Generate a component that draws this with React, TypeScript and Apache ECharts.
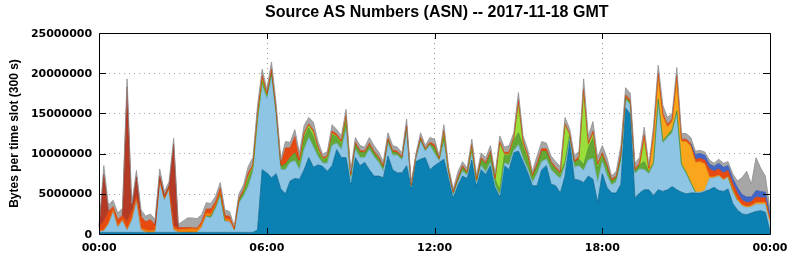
import React, { useEffect, useRef } from "react";
import * as echarts from "echarts";

const TITLE = "Source AS Numbers (ASN) -- 2017-11-18 GMT";
const Y_NAME = "Bytes per time slot (300 s)";
const STEP_MIN = 10; // samples read every 10 minutes, 00:00 .. 24:00
const LABEL_EVERY = 36; // one label every 6 hours
const Y_TICKS = [0, 5000000, 10000000, 15000000, 20000000, 25000000];
const UNIT = 1000000; // values below are in millions of bytes

// teal (largest AS)
const asTeal = [
  0.2,0.2,0.2,0.2,0.2,0.2,0.2,0.2,0.2,0.2,
  0.2,0.2,0.2,0.2,0.2,0.2,0.2,0.2,0.2,0.2,
  0.2,0.2,0.2,0.2,0.2,0.2,0.2,0.2,0.2,0.2,
  0.2,0.2,0.2,0.2,0.5,8.0,7.6,7.0,7.5,5.6,
  5.0,6.6,6.9,6.8,8.0,9.5,8.3,8.6,8.4,7.8,
  8.5,10.5,9.5,9.5,6.2,9.5,8.5,8.9,8.0,7.2,
  7.2,7.0,9.7,8.0,7.6,7.6,8.5,5.7,9.0,9.3,
  9.5,8.0,8.5,8.9,9.3,6.9,4.5,6.0,7.2,6.9,
  9.2,6.0,8.0,7.4,8.5,5.8,4.6,8.5,8.0,10.1,
  10.3,9.0,7.6,6.0,6.0,8.0,8.5,6.2,6.0,5.1,
  7.2,11.5,6.8,6.7,6.4,7.2,6.8,3.9,7.5,5.8,
  5.1,5.1,6.2,15.7,14.9,4.5,5.1,5.5,5.5,4.8,
  5.5,5.3,5.5,5.9,5.5,5.2,5.0,5.1,5.1,5.1,
  5.3,5.5,5.8,5.4,5.3,5.6,3.8,3.0,2.5,2.4,
  2.6,2.8,2.9,2.7,0.3,
];
const asLightBlue = [
  0.1,0.2,1.0,2.6,0.6,1.5,0.3,1.5,4.0,0.3,
  0,0,0,6.2,4.0,5.3,0.3,0,0,0,
  0,0,0.6,2.0,1.8,3.0,4.6,1.4,1.3,0.3,
  3.6,4.5,5.7,7.5,13.5,10.5,9.2,12.5,7.0,2.4,
  3.0,2.3,2.2,1.2,2.5,2.5,2.5,1.0,0.4,1.0,
  2.5,0.8,1.0,3.5,0.2,1.0,1.0,0.6,2.5,2.4,
  1.7,0.8,1.6,1.8,2.2,1.6,4.3,0.2,0.5,2.2,
  0.8,3.0,1.5,0.2,2.0,0.5,0.3,0.4,0.6,0.4,
  0.8,0.3,0.5,0.3,0.4,0.2,0.2,0.3,0.6,0.3,
  0.8,0.4,0.5,0.4,1.5,1.0,0.8,1.8,1.4,1.8,
  1.3,0.5,1.5,1.8,1.5,2.0,2.6,2.5,1.5,1.5,
  1.0,1.4,2.8,1.0,1.2,3.0,3.0,2.5,2.0,3.8,
  11.0,6.0,6.5,6.7,9.5,3.3,2.5,1.2,0.1,0.1,
  0.1,1.4,1.2,1.8,1.4,1.5,1.5,1.2,1.0,0.9,
  0.8,0.9,0.8,1.0,1.2,
];
const asGreen = [
  0,0,0,0,0,0,0,0,0,0,
  0,0,0,0,0,0,0,0,0,0,
  0,0,0,0,0.2,0.2,0.2,0,0,0,
  0.4,0.5,1.0,0.6,0.5,0.5,0.4,0.6,0.7,0.4,
  0.7,0.6,1.0,0.8,1.5,1.2,1.3,0.7,0.5,0.7,
  1.3,0.8,0.8,1.2,0.9,0.7,0.7,0.6,0.5,0.5,
  0.5,0.5,0.4,0.4,0.3,0.3,0.5,0.1,0.1,0.3,
  0.2,0.2,0.8,0.2,1.0,0.4,0.3,0.4,0.5,0.3,
  0.7,0.3,0.8,1.0,1.2,0.8,0.6,1.0,1.2,1.2,
  1.5,1.5,1.3,0.8,1.0,1.3,1.0,0.8,0.7,0.6,
  0.5,0.3,0.6,0.8,0.7,1.5,2.5,1.8,0.8,1.1,
  0.5,0.5,0.6,0.3,0.3,0.3,0.5,1.0,0.3,0.3,
  0.3,0.3,0.3,0.4,0.3,0.2,0.2,0.1,0,0,
  0,0,0,0,0,0,0.1,0,0,0,
  0,0,0,0,0,
];
const asLime = [
  0,0,0,0,0,0,0,0,0,0,
  0,0,0,0,0,0,0,0,0,0,
  0,0,0,0,0,0,0,0,0,0,
  0,0,0.2,0,0,0.2,0,0,0,0,
  0,0,0,0,0.3,0.3,0.5,0.2,0,0,
  0.2,0,0,0.3,0,0,0,0,0,0,
  0,0,0,0,0,0,0,0,0,0,
  0,0,0,0,0.3,0,0,0,0,0,
  0.2,0,0,0,0,0,5.8,0.1,0.1,0.2,
  3.5,0.3,0.1,0,0,0,0,0,0,0,
  4.5,0,0,0,9.0,0.3,0.5,0.2,0,0,
  0,0,0,0,0,0,0,2.5,0,0,
  0,0,0,0,0,0,0,0,0,0,
  0,0,0,0,0,0,0,0,0,0,
  0,0,0,0,0,
];
const asAmber = [
  0,0,0,0,0,0,0,0,0,0,
  0,0,0,0,0,0,0,0,0,0,
  0,0,0,0,0,0,0,0,0,0,
  0,0,0,0,0,0,0,0,0,0,
  0,0,0,0,0,0,0,0,0,0,
  0,0,0,0,0,0,0,0,0,0,
  0,0,0,0,0,0,0,0,0,0,
  0,0,0,0,0,0,0,0,0,0,
  0,0,0,0,0,0,0,0,0,0,
  0,0,0,0,0,0,0,0,0,0,
  0,0,0,0,0,0,0,0,0,0,
  0,0,0,0,0,0,0,0.5,0.2,3.3,
  2.8,3.0,1.0,1.0,4.0,2.8,3.8,4.5,3.7,3.8,
  3.3,0.2,0.1,0.1,0.1,0,0.1,0.1,0.1,0.1,
  0.1,0.2,0.2,0.2,0.1,
];
const asOrange = [
  0.1,0.1,0.2,0.2,0.2,0.1,0.1,0.2,0.1,0.2,
  0.3,0.2,0.3,0.2,0.2,0.2,0.2,0.3,0.4,0.4,
  0.5,0.4,0.4,0.4,0.3,0.2,0.2,0.3,0.3,0.1,
  0,0,0,0,0,0,0,0,0,0,
  0,0,0,0,0,0,0,0,0,0,
  0,0,0,0,0,0,0,0,0,0,
  0,0,0,0,0,0,0,0,0,0,
  0,0,0,0,0,0,0,0,0,0,
  0,0,0,0,0,0,0,0,0,0,
  0,0,0,0,0,0,0,0,0,0,
  0,0,0,0,0,0,0,0,0,0,
  0,0,0,0,0,0,0,0,0,0,
  0,0,0,0,0,0,0,0,0,0,
  0,0,0,0,0,0,0,0,0,0,
  0,0,0,0,0,
];
const asRedOrange = [
  0.5,1.1,1.4,0.4,0.8,0.5,0.9,1.0,0.4,1.5,
  1.0,1.4,0.6,0.3,0.3,0.2,0.3,0.3,0.2,0.2,
  0.1,0.1,0.3,0.5,0.6,0.4,0.5,0.4,0.4,0.1,
  0.2,0.3,0.5,0.3,0.5,0.5,0.3,0.4,0.3,0.3,
  2.0,1.2,2.0,0.4,0.3,0.2,0.3,0.3,0.2,0.2,
  0.3,0.3,0.3,0.3,0.1,0.2,0.2,0.2,0.3,0.2,
  0.2,0.2,0.2,0.2,0.2,0.1,0.2,0.1,0.1,0.2,
  0.1,0.2,0.3,0.1,0.3,0.1,0.1,0.2,0.2,0.1,
  0.2,0.1,0.2,0.2,0.2,0.1,0.3,0.2,0.3,0.2,
  0.5,0.3,0.3,0.1,0.3,0.3,0.3,0.2,0.2,0.2,
  0.2,0.2,0.2,0.3,0.4,0.3,0.4,0.3,0.3,0.2,
  0.2,0.2,0.4,0.3,0.3,0.3,0.2,0.3,0.2,0.4,
  0.4,0.4,0.3,0.3,0.4,0.3,0.3,0.3,0.4,0.4,
  0.5,1.0,0.7,0.8,0.8,0.8,0.8,0.8,0.6,0.5,
  0.5,0.7,0.6,0.6,0.4,
];
const asDarkRed = [
  0,5.8,0,0,0,0,16.8,0.2,2.4,0,
  0,0,0,0.3,0,0,10.2,0,0,0,
  0,0,0,0,0,0,0,0,0,0,
  0,0,0,0,0,0,0,0,0,0,
  0,0,0,0,0,0,0,0,0,0,
  0,0,0,0,0,0,0,0,0,0,
  0,0,0,0,0,0,0,0,0,0,
  0,0,0,0,0,0,0,0,0,0,
  0,0,0,0,0,0,0,0,0,0,
  0,0,0,0,0,0,0,0,0,0,
  0,0,0,0,0,0,0,0,0,0,
  0,0,0,0,0,0,0,0,0,0,
  0,0,0,0,0,0,0,0,0,0,
  0,0,0,0,0,0,0,0,0,0,
  0,0,0,0,0,
];
const asBlue = [
  0,0,0,0,0,0,0,0,0,0,
  0,0,0,0,0,0,0,0,0,0,
  0,0,0,0,0,0,0,0,0,0,
  0,0,0,0,0,0,0,0,0,0,
  0,0,0,0,0,0,0,0,0,0,
  0,0,0,0,0,0,0,0,0,0,
  0,0,0,0,0,0,0,0,0,0,
  0,0,0,0,0,0,0,0,0,0,
  0,0,0,0,0,0,0,0,0,0,
  0,0,0,0,0,0,0,0,0,0,
  0,0,0,0,0,0,0,0,0,0,
  0,0,0,0,0,0,0,0,0,0,
  0,0,0,0,0,0,0,0,0.6,0.6,
  0.6,0.6,0.6,0.7,0.7,0.6,0.6,0.7,0.7,0.7,
  0.6,0.8,0.8,0.7,0.4,
];
const asGray = [
  0.3,1.1,0.8,0.8,0.8,0.9,1.0,0.7,0.8,0.8,
  0.7,0.7,0.7,0.9,0.6,0.6,0.7,0.4,0.8,1.2,
  1.2,1.2,0.9,0.8,0.7,0.7,0.7,0.7,0.6,0.3,
  0.6,0.6,0.8,0.9,1.0,0.8,0.5,0.9,0.7,0.6,
  0.8,0.7,0.9,0.9,0.9,0.8,1.0,0.7,0.4,0.6,
  0.8,0.6,0.6,0.7,0.4,0.6,0.6,0.5,0.7,0.7,
  0.6,0.5,0.7,0.6,0.5,0.5,0.8,0.3,0.3,0.6,
  0.4,0.6,0.7,0.3,0.7,0.5,0.4,0.7,0.5,0.5,
  0.7,0.6,0.6,0.6,0.7,0.6,0.7,0.7,0.8,0.6,
  1.0,0.7,0.7,0.5,0.9,0.9,0.7,0.7,0.7,0.7,
  0.8,0.6,0.6,0.7,1.3,0.9,1.2,0.8,0.9,0.9,
  0.4,0.6,1.0,0.9,0.8,0.7,0.7,1.0,0.3,0.8,
  1.0,1.0,0.9,0.7,1.0,0.7,0.7,0.8,0.4,0.4,
  0.4,0.5,0.4,0.5,0.5,0.5,0.6,0.8,2.1,3.2,
  1.6,4.1,2.9,2.0,0.7,
];

const LAYERS = [
  { name: "AS teal", values: asTeal, fill: "#0a80b3", line: "#06648e" },
  { name: "AS light blue", values: asLightBlue, fill: "#8ec5e4", line: "#72b0d6" },
  { name: "AS green", values: asGreen, fill: "#62a836", line: "#4a9026" },
  { name: "AS lime", values: asLime, fill: "#9ade3c", line: "#84c62a" },
  { name: "AS amber", values: asAmber, fill: "#f9a61c", line: "#e49010" },
  { name: "AS orange", values: asOrange, fill: "#f58200", line: "#e07000" },
  { name: "AS red-orange", values: asRedOrange, fill: "#e64a10", line: "#d03c08" },
  { name: "AS dark red", values: asDarkRed, fill: "#b43a26", line: "#9a2e1c" },
  { name: "AS blue", values: asBlue, fill: "#4266c6", line: "#3454b4" },
  { name: "other", values: asGray, fill: "#a6a6a6", line: "#8e8e8e" },
];

const pad2 = (n: number) => (n < 10 ? "0" + n : String(n));
const fmtTime = (m: number) => pad2(Math.floor(m / 60) % 24) + ":" + pad2(m % 60);
const TIME_SLOTS = asTeal.map((_, i) => fmtTime(i * STEP_MIN));

// Leave out zero slots inside long zero runs, so an empty layer draws no edge line on top of the stack
const toSeriesData = (vals: number[]) =>
  vals.map((v, i) => {
    const prev = i > 0 ? vals[i - 1] : 0;
    const next = i < vals.length - 1 ? vals[i + 1] : 0;
    return v === 0 && prev === 0 && next === 0 ? null : v * UNIT;
  });

export default function App() {
  const ref = useRef<HTMLDivElement>(null);
  useEffect(() => {
    if (!ref.current) return;
    const chart = echarts.init(ref.current, null, { renderer: "svg" });
    const labelFont = { fontFamily: "DejaVu Sans", fontWeight: "bold" as const, fontSize: 11, color: "#000" };
    const series = LAYERS.map((l) => ({
      name: l.name,
      type: "line",
      stack: "total",
      showSymbol: false,
      symbol: "none",
      smooth: false,
      connectNulls: false,
      data: toSeriesData(l.values),
      lineStyle: { color: l.line, width: 0.8 },
      areaStyle: { color: l.fill, opacity: 1 },
      itemStyle: { color: l.fill },
    }));
    chart.setOption({
      animation: false,
      title: {
        text: TITLE,
        left: 265,
        top: 3,
        padding: 0,
        textStyle: { fontFamily: "Liberation Sans", fontWeight: "bold", fontSize: 16, color: "#000" },
      },
      grid: { left: 93, top: 33, width: 677, height: 201, containLabel: false },
      xAxis: {
        type: "category",
        data: TIME_SLOTS,
        boundaryGap: false,
        axisLine: { show: false },
        axisTick: { show: false },
        axisLabel: { ...labelFont, margin: 8, interval: LABEL_EVERY - 1, showMinLabel: true, showMaxLabel: true },
        splitLine: { show: true, interval: LABEL_EVERY - 1, lineStyle: { color: "#999", type: [1, 4], width: 1 } },
      },
      yAxis: {
        type: "value",
        min: Y_TICKS[0],
        max: Y_TICKS[Y_TICKS.length - 1],
        interval: 5000000,
        name: Y_NAME,
        nameLocation: "middle",
        nameGap: 76,
        nameRotate: 90,
        nameTextStyle: { fontFamily: "Liberation Sans", fontWeight: "bold", fontSize: 12, color: "#000" },
        axisLine: { show: false },
        axisTick: { show: false },
        axisLabel: { ...labelFont, margin: 7, formatter: (v: number) => String(v) },
        splitLine: { show: true, lineStyle: { color: "#999", type: [1, 4], width: 1 } },
      },
      series,
    });

    const px = (i: number, y: number) => chart.convertToPixel({ gridIndex: 0 }, [i, y]) as number[];
    const last = TIME_SLOTS.length - 1;
    const [x0, yTop] = px(0, Y_TICKS[Y_TICKS.length - 1]);
    const [x1, yBot] = px(last, Y_TICKS[0]);
    const stroke = { stroke: "#000", lineWidth: 1 };
    const els: any[] = [];
    Y_TICKS.slice(1, -1).forEach((v) => {
      const y = Math.round(px(0, v)[1]) + 0.5;
      els.push({ type: "line", shape: { x1: x0, y1: y, x2: x0 + 7, y2: y }, style: stroke, z: 100 });
      els.push({ type: "line", shape: { x1: x1 - 7, y1: y, x2: x1, y2: y }, style: stroke, z: 100 });
    });
    for (let i = LABEL_EVERY; i < last; i += LABEL_EVERY) {
      const x = Math.round(px(i, 0)[0]) + 0.5;
      els.push({ type: "line", shape: { x1: x, y1: yTop, x2: x, y2: yTop + 6 }, style: stroke, z: 100 });
      els.push({ type: "line", shape: { x1: x, y1: yBot - 6, x2: x, y2: yBot }, style: stroke, z: 100 });
    }
    els.push({
      type: "rect",
      shape: { x: Math.round(x0) + 0.5, y: Math.round(yTop) + 0.5, width: Math.round(x1 - x0), height: Math.round(yBot - yTop) },
      style: { fill: "none", stroke: "#000", lineWidth: 1 },
      z: 101,
    });
    chart.setOption({ graphic: els });

    return () => chart.dispose();
  }, []);
  return <div ref={ref} style={{ position: "fixed", left: 0, top: 0, width: 792, height: 259 }} />;
}
